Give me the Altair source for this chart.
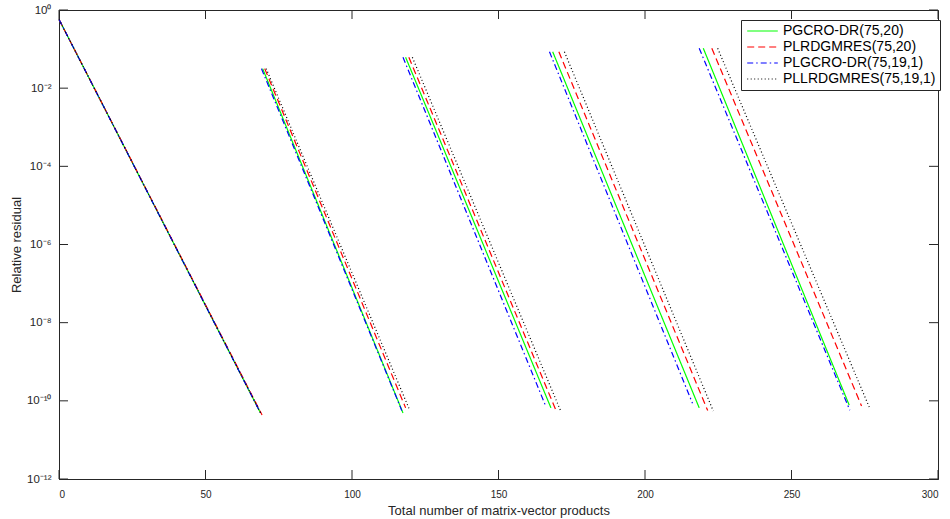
import altair as alt
import pandas as pd

# ---- data ----
methods = ["PGCRO-DR(75,20)", "PLRDGMRES(75,20)", "PLGCRO-DR(75,19,1)", "PLLRDGMRES(75,19,1)"]
colors = ["#00ff00", "#ff0000", "#0000ff", "#000000"]
dashes = [[1, 0], [7, 4], [6, 3, 1.5, 3], [1, 2.5]]

# start / end of each of the 5 convergence segments (x = matvecs, log10 residual)
start_x = {
    methods[0]: [0, 69.5, 118.3, 168.5, 219.9],
    methods[1]: [0, 70.2, 119.4, 170.6, 222.8],
    methods[2]: [0, 69.1, 117.4, 167.4, 218.5],
    methods[3]: [0, 70.7, 120.6, 172.5, 224.8],
}
start_log = [-0.24, -1.5, -1.21, -1.07, -0.98]
end_x = {
    methods[0]: [68.7, 117.4, 167.9, 218.5, 269.7],
    methods[1]: [69.3, 118.3, 169.6, 221.4, 273.9],
    methods[2]: [68.7, 117.0, 166.2, 216.2, 269.9],
    methods[3]: [68.9, 119.7, 171.4, 223.3, 276.7],
}
end_log = {
    methods[0]: [-10.30, -10.31, -10.18, -10.18, -10.11],
    methods[1]: [-10.36, -10.18, -10.24, -10.25, -10.13],
    methods[2]: [-10.30, -10.25, -10.15, -10.06, -10.24],
    methods[3]: [-10.32, -10.24, -10.29, -10.26, -10.19],
}

x_ticks = [0, 50, 100, 150, 200, 250, 300]
y_ticks = [1e0, 1e-2, 1e-4, 1e-6, 1e-8, 1e-10, 1e-12]

rows = []
for k, m in enumerate(methods):
    for s in range(5):
        rows.append({"method": m, "order": k, "seg": f"{m}-{s}", "x": start_x[m][s], "r": 10 ** start_log[s], "p": 0})
        rows.append({"method": m, "order": k, "seg": f"{m}-{s}", "x": end_x[m][s], "r": 10 ** end_log[m][s], "p": 1})
df = pd.DataFrame(rows)

W, H = 879, 469
AX = "#262626"
FONT = "Liberation Sans"

xscale = alt.Scale(domain=[0, 300], nice=False, zero=False)
yscale = alt.Scale(type="log", domain=[1e-12, 1], nice=False)
xaxis = alt.Axis(values=x_ticks, title="Total number of matrix-vector products",
                 tickSize=0, grid=False, labelPadding=10, labelFontSize=10,
                 titleX=W / 2, titleY=31, titleBaseline="middle", titleAlign="center")
yaxis = alt.Axis(values=y_ticks, title="Relative residual", tickSize=0, grid=False,
                 labelPadding=8, labelFontSize=11.5,
                 titleX=-43, titleY=H / 2, titleAngle=270, titleBaseline="middle", titleAlign="center",
                 labelExpr="'10' + (round(log(datum.value)/LN10) == 0 ? '⁰' : '⁻' + ['⁰','¹','²','³','⁴','⁵','⁶','⁷','⁸','⁹','¹⁰','¹¹','¹²'][-round(log(datum.value)/LN10)])")

lines = alt.Chart(df).mark_line(strokeWidth=1.2).encode(
    x=alt.X("x:Q", scale=xscale, axis=xaxis),
    y=alt.Y("r:Q", scale=yscale, axis=yaxis),
    color=alt.Color("method:N", scale=alt.Scale(domain=methods, range=colors), title=None),
    strokeDash=alt.StrokeDash("method:N", scale=alt.Scale(domain=methods, range=dashes), title=None),
    detail="seg:N",
    order="p:Q",
)

xt = pd.DataFrame({"x": x_ticks})
yt = pd.DataFrame({"r": y_ticks})
TL = 9
tb = alt.Chart(xt).mark_rule(color=AX, strokeWidth=1).encode(
    x=alt.X("x:Q", scale=xscale, axis=xaxis), y=alt.value(H), y2=alt.value(H - TL))
tt = alt.Chart(xt).mark_rule(color=AX, strokeWidth=1).encode(
    x=alt.X("x:Q", scale=xscale, axis=xaxis), y=alt.value(0), y2=alt.value(TL))
tl = alt.Chart(yt).mark_rule(color=AX, strokeWidth=1).encode(
    y=alt.Y("r:Q", scale=yscale, axis=yaxis), x=alt.value(0), x2=alt.value(TL))
tr = alt.Chart(yt).mark_rule(color=AX, strokeWidth=1).encode(
    y=alt.Y("r:Q", scale=yscale, axis=yaxis), x=alt.value(W), x2=alt.value(W - TL))

chart = alt.layer(lines, tb, tt, tl, tr).properties(
    width=W, height=H,
    autosize=alt.AutoSizeParams(type="none"),
    padding={"left": 59, "top": 10, "right": 12, "bottom": 40},
    background="white",
).configure_view(
    stroke=AX, strokeWidth=1
).configure_axis(
    domainColor=AX, labelColor=AX, titleColor=AX, labelFont=FONT, titleFont=FONT,
    titleFontSize=13, titleFontWeight="normal",
).configure_legend(
    orient="none", legendX=682, legendY=10,
    strokeColor=AX, fillColor="white", padding=4,
    labelFont=FONT, labelFontSize=14, labelColor="#000000",
    symbolType="M-0.8,0H4.3", symbolSize=144, symbolStrokeWidth=1.2,
    rowPadding=2, labelOffset=24, labelLimit=300, cornerRadius=0,
)

chart.save("out.html", embed_options={"renderer": "svg", "actions": False})
